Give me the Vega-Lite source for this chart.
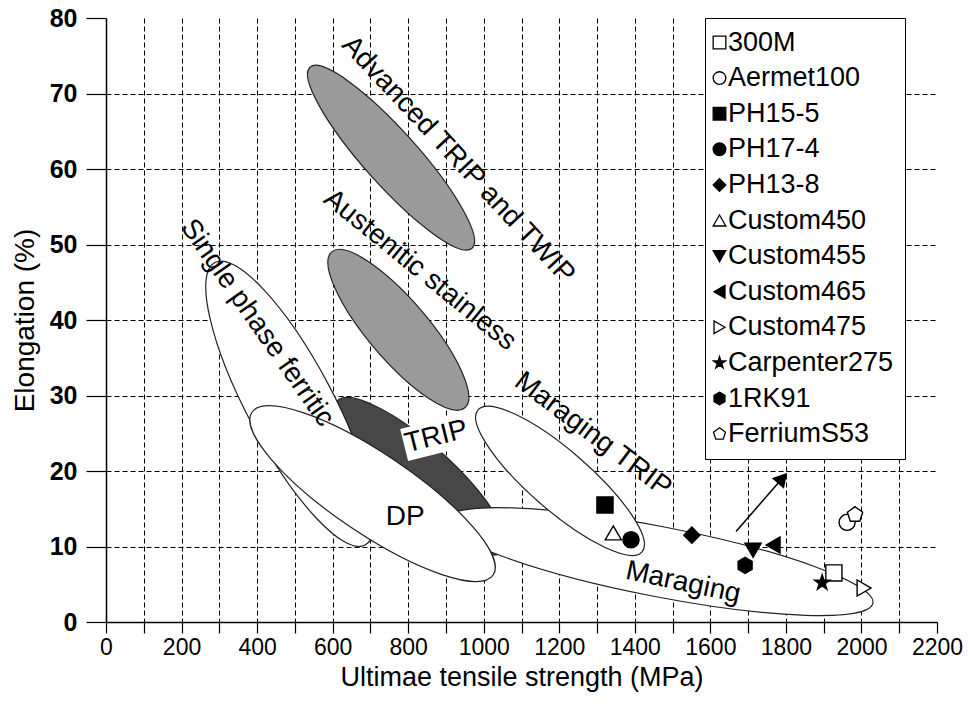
{
  "$schema": "https://vega.github.io/schema/vega-lite/v6.json",
  "width": 831,
  "height": 604,
  "autosize": {"type": "none"},
  "padding": {"left": 106, "top": 18, "right": 37, "bottom": 84},
  "background": "white",
  "config": {"view": {"stroke": null}, "font": "Liberation Sans"},
  "encoding": {
    "x": {"field": "uts", "type": "quantitative", "scale": {"domain": [0, 2200], "nice": false},
      "axis": {"title": "Ultimae tensile strength (MPa)", "values": [0,100,200,300,400,500,600,700,800,900,1000,1100,1200,1300,1400,1500,1600,1700,1800,1900,2000,2100,2200],
        "labelExpr": "datum.value % 200 === 0 ? datum.label : ''", "format": "d",
        "labelFont": "Liberation Sans", "labelFontSize": 23, "labelColor": "black", "labelPadding": 3,
        "titleFont": "Liberation Sans", "titleFontSize": 27, "titleFontWeight": "normal", "titleColor": "black", "titlePadding": 5,
        "tickSize": 11, "tickColor": "black", "tickWidth": 1.2, "domainColor": "black", "domainWidth": 1.5,
        "grid": true, "gridDash": [5, 3], "gridWidth": 1,
        "gridColor": {"condition": {"test": "datum.value === 0 || datum.value === 2200", "value": "transparent"}, "value": "black"},
        "labelFlush": false}},
    "y": {"field": "el", "type": "quantitative", "scale": {"domain": [0, 80], "nice": false},
      "axis": {"title": "Elongation (%)", "values": [0,10,20,30,40,50,60,70,80],
        "labelFont": "Liberation Sans", "labelFontWeight": "bold", "labelFontSize": 25, "labelColor": "black", "labelPadding": 9,
        "titleFont": "Liberation Sans", "titleFontSize": 28, "titleFontWeight": "normal", "titleColor": "black", "titlePadding": 10,
        "tickSize": 20, "tickColor": "black", "tickWidth": 1.2, "domainColor": "black", "domainWidth": 1.5,
        "grid": true, "gridDash": [5, 3], "gridWidth": 1,
        "gridColor": {"condition": {"test": "datum.value === 0 || datum.value === 80", "value": "transparent"}, "value": "black"},
        "labelFlush": false}}
  },
  "layer": [
    {
      "data": {"values": [{"uts": 754.6, "el": 61.5}]},
      "mark": {"type": "point", "shape": "M-1,0C-1,-0.1226 -0.5523,-0.222 0,-0.222C0.5523,-0.222 1,-0.1226 1,0C1,0.1226 0.5523,0.222 0,0.222C-0.5523,0.222 -1,0.1226 -1,0Z", "size": 59049, "angle": 48.2, "filled": true, "fill": "#9a9a9a", "stroke": "#222", "strokeWidth": 1.2, "opacity": 1}
    },
    {
      "data": {"values": [{"uts": 774, "el": 38.7}]},
      "mark": {"type": "point", "shape": "M-1,0C-1,-0.1618 -0.5523,-0.293 0,-0.293C0.5523,-0.293 1,-0.1618 1,0C1,0.1618 0.5523,0.293 0,0.293C-0.5523,0.293 -1,0.1618 -1,0Z", "size": 42025, "angle": 49.5, "filled": true, "fill": "#9a9a9a", "stroke": "#222", "strokeWidth": 1.2, "opacity": 1}
    },
    {
      "data": {"values": [{"uts": 831.4, "el": 19.3}]},
      "mark": {"type": "point", "shape": "M-1,0C-1,-0.1578 -0.5523,-0.2857 0,-0.2857C0.5523,-0.2857 1,-0.1578 1,0C1,0.1578 0.5523,0.2857 0,0.2857C-0.5523,0.2857 -1,0.1578 -1,0Z", "size": 50176, "angle": 42, "filled": true, "fill": "#474747", "stroke": "#222", "strokeWidth": 1.2, "opacity": 1}
    },
    {
      "data": {"values": [{"uts": 487, "el": 28.9}]},
      "mark": {"type": "point", "shape": "M-1,0C-1,-0.1486 -0.5523,-0.269 0,-0.269C0.5523,-0.269 1,-0.1486 1,0C1,0.1486 0.5523,0.269 0,0.269C-0.5523,0.269 -1,0.1486 -1,0Z", "size": 102400, "angle": 62, "filled": true, "fill": "white", "stroke": "#222", "strokeWidth": 1.2, "opacity": 1}
    },
    {
      "data": {"values": [{"uts": 1464, "el": 8.0}]},
      "mark": {"type": "point", "shape": "M-1,0C-1,-0.0887 -0.5523,-0.1606 0,-0.1606C0.5523,-0.1606 1,-0.0887 1,0C1,0.0887 0.5523,0.1606 0,0.1606C-0.5523,0.1606 -1,0.0887 -1,0Z", "size": 190096, "angle": 11, "filled": true, "fill": "white", "stroke": "#222", "strokeWidth": 1.2, "opacity": 1}
    },
    {
      "data": {"values": [{"uts": 705.6, "el": 17.0}]},
      "mark": {"type": "point", "shape": "M-1,0C-1,-0.1519 -0.5523,-0.275 0,-0.275C0.5523,-0.275 1,-0.1519 1,0C1,0.1519 0.5523,0.275 0,0.275C-0.5523,0.275 -1,0.1519 -1,0Z", "size": 84681, "angle": 34, "filled": true, "fill": "white", "stroke": "#222", "strokeWidth": 1.2, "opacity": 1}
    },
    {
      "data": {"values": [{"uts": 1202, "el": 18.7}]},
      "mark": {"type": "point", "shape": "M-1,0C-1,-0.1524 -0.5523,-0.276 0,-0.276C0.5523,-0.276 1,-0.1524 1,0C1,0.1524 0.5523,0.276 0,0.276C-0.5523,0.276 -1,0.1524 -1,0Z", "size": 47089, "angle": 40.9, "filled": true, "fill": "white", "stroke": "#222", "strokeWidth": 1.2, "opacity": 1}
    },
    {
      "data": {"values": [{"uts": 874, "el": 24.5}]},
      "mark": {"type": "point", "shape": "M-1,-0.5L1,-0.5L1,0.5L-1,0.5Z", "size": 4356, "angle": -14, "filled": true, "fill": "white", "strokeWidth": 0, "opacity": 1}
    },
    {
      "data": {"values": [{"uts": 932, "el": 61.2, "label": "Advanced TRIP and TWIP"}]},
      "mark": {"type": "text", "font": "Liberation Sans", "fontSize": 28, "angle": 47, "align": "center", "baseline": "middle", "color": "black"},
      "encoding": {"text": {"field": "label"}}
    },
    {
      "data": {"values": [{"uts": 831, "el": 46.6, "label": "Austenitic stainless"}]},
      "mark": {"type": "text", "font": "Liberation Sans", "fontSize": 28, "angle": 39, "align": "center", "baseline": "middle", "color": "black"},
      "encoding": {"text": {"field": "label"}}
    },
    {
      "data": {"values": [{"uts": 400, "el": 39.6, "label": "Single phase ferritic"}]},
      "mark": {"type": "text", "font": "Liberation Sans", "fontSize": 28, "angle": 55, "align": "center", "baseline": "middle", "color": "black"},
      "encoding": {"text": {"field": "label"}}
    },
    {
      "data": {"values": [{"uts": 1289, "el": 24.8, "label": "Maraging TRIP"}]},
      "mark": {"type": "text", "font": "Liberation Sans", "fontSize": 28, "angle": 37, "align": "center", "baseline": "middle", "color": "black"},
      "encoding": {"text": {"field": "label"}}
    },
    {
      "data": {"values": [{"uts": 874, "el": 24.5, "label": "TRIP"}]},
      "mark": {"type": "text", "font": "Liberation Sans", "fontSize": 28, "angle": -14, "align": "center", "baseline": "middle", "color": "black"},
      "encoding": {"text": {"field": "label"}}
    },
    {
      "data": {"values": [{"uts": 792, "el": 13.9, "label": "DP"}]},
      "mark": {"type": "text", "font": "Liberation Sans", "fontSize": 28, "align": "center", "baseline": "middle", "color": "black"},
      "encoding": {"text": {"field": "label"}}
    },
    {
      "data": {"values": [{"uts": 1528, "el": 5.2, "label": "Maraging"}]},
      "mark": {"type": "text", "font": "Liberation Sans", "fontSize": 28, "angle": 12, "align": "center", "baseline": "middle", "color": "black"},
      "encoding": {"text": {"field": "label"}}
    },
    {
      "data": {"values": [{"uts": 1668, "el": 12.0, "uts2": 1790, "el2": 19.0}]},
      "mark": {"type": "rule", "color": "black", "strokeWidth": 1.5},
      "encoding": {
        "x2": {"field": "uts2"},
        "y2": {"field": "el2"}
      }
    },
    {
      "data": {"values": [{"uts": 1790, "el": 19.0}]},
      "mark": {"type": "point", "shape": "triangle-up", "size": 160, "angle": 41, "filled": true, "fill": "black", "stroke": "black", "opacity": 1}
    },
    {
      "data": {"values": [
        {"alloy": "300M", "uts": 1927, "el": 6.5},
        {"alloy": "Aermet100", "uts": 1962, "el": 13.2},
        {"alloy": "PH15-5", "uts": 1321, "el": 15.5},
        {"alloy": "PH17-4", "uts": 1390, "el": 10.9},
        {"alloy": "PH13-8", "uts": 1551, "el": 11.5},
        {"alloy": "Custom450", "uts": 1343, "el": 11.8},
        {"alloy": "Custom455", "uts": 1713, "el": 9.5},
        {"alloy": "Custom465", "uts": 1766, "el": 10.2},
        {"alloy": "Custom475", "uts": 2007, "el": 4.5},
        {"alloy": "Carpenter275", "uts": 1896, "el": 5.2},
        {"alloy": "1RK91", "uts": 1692, "el": 7.5},
        {"alloy": "FerriumS53", "uts": 1983, "el": 14.2}
      ]},
      "mark": {"type": "point", "filled": true, "size": 260, "strokeWidth": 1.4, "opacity": 1},
      "encoding": {
        "shape": {"field": "alloy", "type": "nominal",
          "scale": {"domain": ["300M","Aermet100","PH15-5","PH17-4","PH13-8","Custom450","Custom455","Custom465","Custom475","Carpenter275","1RK91","FerriumS53"],
            "range": ["square","circle","square","circle","diamond","triangle-up","triangle-down","triangle-left","triangle-right",
              "M0,-1L0.2245,-0.309L0.951,-0.309L0.363,0.118L0.588,0.809L0,0.382L-0.588,0.809L-0.363,0.118L-0.951,-0.309L-0.2245,-0.309Z",
              "M0,-1L0.866,-0.5L0.866,0.5L0,1L-0.866,0.5L-0.866,-0.5Z",
              "M0,-1L0.951,-0.309L0.588,0.809L-0.588,0.809L-0.951,-0.309Z"]},
          "legend": {"orient": "none", "legendX": 599, "legendY": 0, "title": null, "strokeColor": "black", "fillColor": "white", "padding": 11,
            "labelFont": "Liberation Sans", "labelFontSize": 27, "labelColor": "black", "labelOffset": -5, "symbolOffset": -10, "labelLimit": 300,
            "symbolSize": 160, "symbolStrokeWidth": 1.3, "rowPadding": 7.6}},
        "fill": {"field": "alloy", "type": "nominal",
          "scale": {"domain": ["300M","Aermet100","PH15-5","PH17-4","PH13-8","Custom450","Custom455","Custom465","Custom475","Carpenter275","1RK91","FerriumS53"],
            "range": ["white","white","black","black","black","white","black","black","white","black","black","white"]},
          "legend": {"orient": "none", "legendX": 599, "legendY": 0, "title": null, "strokeColor": "black", "fillColor": "white", "padding": 11,
            "labelFont": "Liberation Sans", "labelFontSize": 27, "labelColor": "black", "labelOffset": -5, "symbolOffset": -10, "labelLimit": 300,
            "symbolSize": 160, "symbolStrokeWidth": 1.3, "rowPadding": 7.6}},
        "stroke": {"field": "alloy", "type": "nominal",
          "scale": {"domain": ["300M","Aermet100","PH15-5","PH17-4","PH13-8","Custom450","Custom455","Custom465","Custom475","Carpenter275","1RK91","FerriumS53"],
            "range": ["black","black","black","black","black","black","black","black","black","black","black","black"]},
          "legend": {"orient": "none", "legendX": 599, "legendY": 0, "title": null, "strokeColor": "black", "fillColor": "white", "padding": 11,
            "labelFont": "Liberation Sans", "labelFontSize": 27, "labelColor": "black", "labelOffset": -5, "symbolOffset": -10, "labelLimit": 300,
            "symbolSize": 160, "symbolStrokeWidth": 1.3, "rowPadding": 7.6}}
      }
    }
  ]
}
